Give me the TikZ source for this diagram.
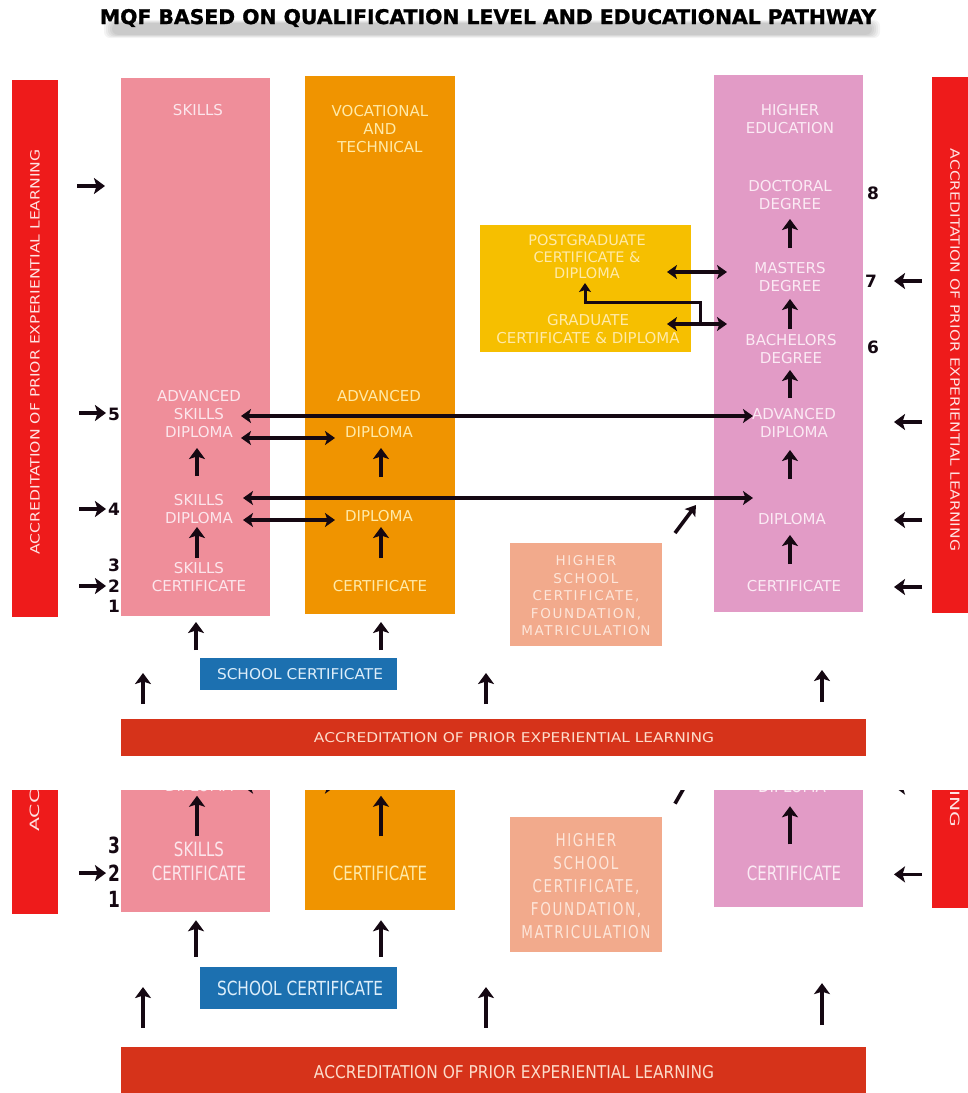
\documentclass[tikz,border=0pt]{standalone}
\usepackage{fontspec}
\setmainfont{DejaVu Sans}
\newfontfamily\hsfont{DejaVu Sans}[LetterSpace=12]
\newfontfamily\titlefont{DejaVu Sans}[FakeBold=1.2]
\usetikzlibrary{arrows.meta}
\definecolor{aplred}{HTML}{EE1B1B}
\definecolor{aplbar}{HTML}{D6331A}
\definecolor{skillpink}{HTML}{EF8E9A}
\definecolor{vocorange}{HTML}{F09400}
\definecolor{hepink}{HTML}{E29BC6}
\definecolor{pgyellow}{HTML}{F6BF00}
\definecolor{hssalmon}{HTML}{F2AA8C}
\definecolor{scblue}{HTML}{1C70B0}
\definecolor{txtpink}{HTML}{FCE6EC}
\definecolor{txtyellow}{HTML}{FFEAA8}
\definecolor{txtred}{HTML}{FFE2E2}
\definecolor{txthe}{HTML}{FBEAF4}
\definecolor{txths}{HTML}{FDE6DA}
\definecolor{txtsc}{HTML}{DDEEFA}
\definecolor{txtbar}{HTML}{FCDCCB}
\definecolor{arrink}{HTML}{150812}

\newcommand{\mqftitletext}{\resizebox{776pt}{15pt}{\titlefont\bfseries MQF BASED ON QUALIFICATION LEVEL AND EDUCATIONAL PATHWAY}}

\newcommand{\mqfbody}{%
  % boxes
  \node[box, fill=aplred, minimum width=46pt, minimum height=537pt] (aplL) at (12,80) {};
  \node[box, fill=aplred, minimum width=40pt, minimum height=536pt] (aplR) at (932,77) {};
  \node[box, fill=skillpink, minimum width=149pt, minimum height=538pt] (skills) at (121,78) {};
  \node[box, fill=vocorange, minimum width=150pt, minimum height=538pt] (voc) at (305,76) {};
  \node[box, fill=hepink, minimum width=149pt, minimum height=537pt] (he) at (714,75) {};
  \node[box, fill=pgyellow, minimum width=211pt, minimum height=127pt] (pg) at (480,225) {};
  \node[box, fill=hssalmon, minimum width=152pt, minimum height=103pt] (hs) at (510,543) {};
  \node[box, fill=scblue, minimum width=197pt, minimum height=32pt] (sc) at (200,658) {};
  \node[box, fill=aplbar, minimum width=745pt, minimum height=37pt] (aplB) at (121,719) {};
  % bar texts
  \node[rotate=90, inner sep=0pt, text=txtred] (aplLt) at (35,352) {\resizebox{405pt}{9.5pt}{ACCREDITATION OF PRIOR EXPERIENTIAL LEARNING}};
  \node[rotate=-90, inner sep=0pt, text=txtred] (aplRt) at (955,350) {\resizebox{402pt}{9.5pt}{ACCREDITATION OF PRIOR EXPERIENTIAL LEARNING}};
  \node[inner sep=0pt, text=txtbar] (aplBt) at (514,738) {\resizebox{400pt}{10pt}{ACCREDITATION OF PRIOR EXPERIENTIAL LEARNING}};
  \node[inner sep=0pt, text=txtsc] (sct) at (300,674) {\resizebox{166pt}{11pt}{SCHOOL CERTIFICATE}};
  % skills labels
  \node[lbl, text=txtpink] (sk0) at (198,110) {SKILLS};
  \node[lbl, text=txtpink] (sk5) at (199,414) {ADVANCED\\SKILLS\\DIPLOMA};
  \node[lbl, text=txtpink] (sk4) at (199,509) {SKILLS\\DIPLOMA};
  \node[lbl, text=txtpink] (sk3) at (199,577) {SKILLS\\CERTIFICATE};
  % vocational labels
  \node[lbl, text=txtyellow] (vo0) at (380,129) {VOCATIONAL\\AND\\TECHNICAL};
  \node[lbl, text=txtyellow] (vo5a) at (379,396) {ADVANCED};
  \node[lbl, text=txtyellow] (vo5) at (379,432) {DIPLOMA};
  \node[lbl, text=txtyellow] (vo4) at (379,516) {DIPLOMA};
  \node[lbl, text=txtyellow] (vo3) at (380,586) {CERTIFICATE};
  % higher education labels
  \node[lbl, text=txthe] (he0) at (790,119) {HIGHER\\EDUCATION};
  \node[lbl, text=txthe] (he8) at (790,195) {DOCTORAL\\DEGREE};
  \node[lbl, text=txthe] (he7) at (790,277) {MASTERS\\DEGREE};
  \node[lbl, text=txthe] (he6) at (791,349) {BACHELORS\\DEGREE};
  \node[lbl, text=txthe] (he5) at (794,423) {ADVANCED\\DIPLOMA};
  \node[lbl, text=txthe] (he4) at (792,519) {DIPLOMA};
  \node[lbl, text=txthe] (he3) at (794,586) {CERTIFICATE};
  % postgraduate / graduate
  \node[lbl, text=txtyellow, font=\fontsize{14.5}{16.5}\selectfont] (pgt) at (587,257) {POSTGRADUATE\\CERTIFICATE \&\\DIPLOMA};
  \node[lbl, text=txtyellow] (grt) at (588,329) {GRADUATE\\CERTIFICATE \& DIPLOMA};
  % higher school
  \node[lbl, text=txths, font=\hsfont\fontsize{13.5}{17.5}\selectfont] (hst) at (586,596) {HIGHER\\SCHOOL\\CERTIFICATE,\\FOUNDATION,\\MATRICULATION};
  % level numbers
  \node[num] (n5) at (114,414) {5};
  \node[num] (n4) at (114,509) {4};
  \node[num] (n3) at (114,565) {3};
  \node[num] (n2) at (114,586) {2};
  \node[num] (n1) at (114,606) {1};
  \node[num] (n8) at (873,193) {8};
  \node[num] (n7) at (871,281) {7};
  \node[num] (n6) at (873,347) {6};
  % arrow end points
  \coordinate (la1s) at (77,186);  \coordinate (la1e) at (105,186);
  \coordinate (la5s) at (79,413);  \coordinate (la5e) at (106,413);
  \coordinate (la4s) at (79,509);  \coordinate (la4e) at (106,509);
  \coordinate (la2s) at (79,586);  \coordinate (la2e) at (106,586);
  \coordinate (ra7s) at (922,281); \coordinate (ra7e) at (894,281);
  \coordinate (ra5s) at (922,422); \coordinate (ra5e) at (894,422);
  \coordinate (ra4s) at (922,520); \coordinate (ra4e) at (894,520);
  \coordinate (ra3s) at (922,587); \coordinate (ra3e) at (894,587);
  \coordinate (su1s) at (197,476); \coordinate (su1e) at (197,448);
  \coordinate (su2s) at (197,558); \coordinate (su2e) at (197,527);
  \coordinate (vu1s) at (381,477); \coordinate (vu1e) at (381,448);
  \coordinate (vu2s) at (381,558); \coordinate (vu2e) at (381,527);
  \coordinate (hu1s) at (790,248); \coordinate (hu1e) at (790,219);
  \coordinate (hu2s) at (790,329); \coordinate (hu2e) at (790,299);
  \coordinate (hu3s) at (790,398); \coordinate (hu3e) at (790,370);
  \coordinate (hu4s) at (790,479); \coordinate (hu4e) at (790,450);
  \coordinate (hu5s) at (790,564); \coordinate (hu5e) at (790,535);
  \coordinate (bu1s) at (196,650); \coordinate (bu1e) at (196,622);
  \coordinate (bu2s) at (381,650); \coordinate (bu2e) at (381,622);
  \coordinate (bu3s) at (143,704); \coordinate (bu3e) at (143,673);
  \coordinate (bu4s) at (486,704); \coordinate (bu4e) at (486,673);
  \coordinate (bu5s) at (822,702); \coordinate (bu5e) at (822,670);
  \coordinate (d1a) at (241,438);  \coordinate (d1b) at (335,438);
  \coordinate (d2a) at (243,520);  \coordinate (d2b) at (335,520);
  \coordinate (l1a) at (241,416);  \coordinate (l1b) at (753,416);
  \coordinate (l2a) at (243,498);  \coordinate (l2b) at (753,498);
  \coordinate (p1a) at (667,272);  \coordinate (p1b) at (727,272);
  \coordinate (p2a) at (667,324);  \coordinate (p2b) at (727,324);
  \coordinate (ela) at (700,324);  \coordinate (elb) at (700,302);
  \coordinate (elc) at (585,302);  \coordinate (eld) at (585,283);
  \coordinate (dga) at (675,533);  \coordinate (dgb) at (696,505);
  % arrows
  \foreach \a in {la1,la5,la4,la2,ra7,ra5,ra4,ra3,su1,su2,vu1,vu2,hu1,hu2,hu3,hu4,hu5,bu1,bu2,bu3,bu4,bu5}
    {\draw[arr] (\a s) -- (\a e);}
  \draw[darr] (d1a) -- (d1b);
  \draw[darr] (d2a) -- (d2b);
  \draw[darr, line width=3.2pt] (l1a) -- (l1b);
  \draw[darr, line width=3.2pt] (l2a) -- (l2b);
  \draw[darr] (p1a) -- (p1b);
  \draw[darr] (p2a) -- (p2b);
  \draw[arr, line width=3pt, -{Stealth[length=9pt,width=12pt,inset=2pt]}] (ela) -- (elb) -- (elc) -- (eld);
  \draw[arr, -{Stealth[length=10pt,width=13pt,inset=2pt]}] (dga) -- (dgb);
}

\begin{document}
\begin{tikzpicture}[x=1pt,y=-1pt,
  box/.style={rectangle, inner sep=0pt, outer sep=0pt, anchor=north west, draw=none},
  lbl/.style={align=center, inner sep=0pt, font=\fontsize{15}{18}\selectfont},
  num/.style={inner sep=0pt, text=arrink, font=\fontsize{17}{18}\selectfont\bfseries},
  arr/.style={draw=arrink, line width=3.6pt, -{Stealth[length=11pt,width=16pt,inset=2.5pt]}},
  darr/.style={draw=arrink, line width=3.3pt, {Stealth[length=10pt,width=14pt,inset=2.5pt]}-{Stealth[length=10pt,width=14pt,inset=2.5pt]}}]
  \fill[white] (0,0) rectangle (968,1093);
  \useasboundingbox (0,0) rectangle (968,1093);
  % soft blurred shadow under the title
  \foreach \m in {0,2,4,6,8}
    {\fill[black, opacity=0.045, rounded corners=6pt] (104+\m,20+0.4*\m) rectangle (880-\m,38-0.4*\m);}
  \node[inner sep=0pt, text=black] (title) at (488,18) {\mqftitletext};
  % main diagram
  \mqfbody
  % repeated, stretched lower part
  \begin{scope}
    \clip (0,790) rectangle (968,1093);
    \begin{scope}[yshift=-105.3pt, yscale=1.31, transform shape]
      \mqfbody
    \end{scope}
  \end{scope}
\end{tikzpicture}
\end{document}
